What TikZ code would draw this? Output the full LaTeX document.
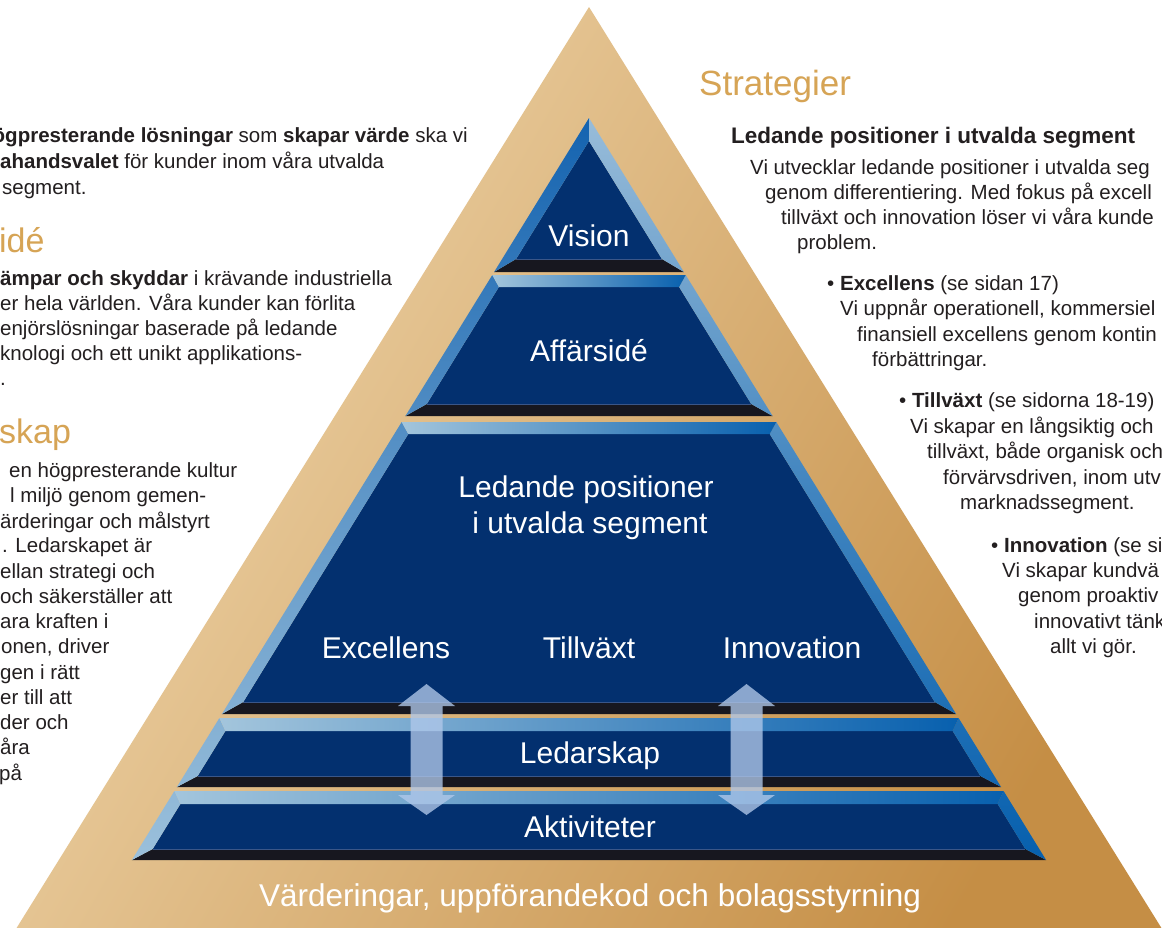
\documentclass[tikz,border=0pt]{standalone}
\usepackage{fontspec}
\setmainfont{Liberation Sans}
\usetikzlibrary{calc}
\definecolor{face}{HTML}{03306F}
\definecolor{strip}{HTML}{17171F}
\definecolor{stripline}{HTML}{3A5688}
\definecolor{lbTop}{HTML}{1463B0}
\definecolor{lbBot}{HTML}{9BC0DB}
\definecolor{rbTop}{HTML}{98BCD9}
\definecolor{rbBot}{HTML}{0760AE}
\definecolor{tbL}{HTML}{A3C5DC}
\definecolor{tbR}{HTML}{0860AE}
\definecolor{goldL}{HTML}{EFD6AC}
\definecolor{goldD}{HTML}{C58E45}
\definecolor{goldtxt}{HTML}{D6A455}
\definecolor{txt}{HTML}{231F20}
\definecolor{arrowc}{HTML}{B0C8EA}
\tikzset{
  body/.style={font=\fontsize{20.5}{24}\selectfont, text=txt, anchor=base west, inner sep=0pt},
  pyr/.style={font=\fontsize{30}{34}\selectfont, text=white, anchor=base, inner sep=0pt},
  headtxt/.style={font=\fontsize{35}{40}\selectfont, text=goldtxt, anchor=base west, inner sep=0pt},
  facefill/.style={fill=face},
  stripfill/.style={fill=strip},
  arrowfill/.style={fill=arrowc, fill opacity=0.78},
}
\newcommand{\dblarrow}[1]{%
  \fill[arrowfill] (#1) -- ++(28.5,22) -- ++(-12.5,0) -- ++(0,89) -- ++(12.5,0)
    -- ++(-28.5,20) -- ++(-28.5,-20) -- ++(12.5,0) -- ++(0,-89) -- ++(-12.5,0) -- cycle;}
\begin{document}
\begin{tikzpicture}[x=1pt,y=-1pt]
\useasboundingbox (0,0) rectangle (1162,927);
\clip (0,0) rectangle (1162,927);
\fill[white] (0,0) rectangle (1162,927);

% gold triangle
\shade[top color=goldL, bottom color=goldD, shading angle=60]
  (589,7) -- (1172,945) -- (6,945) -- cycle;

% ---------- tiers: inner faces ----------
\fill[facefill] (589,141) -- (661.9,259) -- (516.1,259) -- cycle;
\fill[facefill] (498.9,287) -- (679.1,287) -- (751.2,404) -- (426.8,404) -- cycle;
\fill[facefill] (408.3,434) -- (769.7,434) -- (934.7,702) -- (243.3,702) -- cycle;
\fill[facefill] (225.4,731) -- (952.6,731) -- (980.3,776) -- (197.7,776) -- cycle;
\fill[facefill] (180.4,804) -- (997.6,804) -- (1025.3,849) -- (152.7,849) -- cycle;

% ---------- dark bottom strips ----------
\fill[stripfill] (516.1,259) -- (661.9,259) -- (683.9,272) -- (494.1,272) -- cycle;
\fill[stripfill] (426.8,404) -- (751.2,404) -- (772.6,416) -- (405.4,416) -- cycle;
\fill[stripfill] (243.3,702) -- (934.7,702) -- (956.1,714) -- (221.9,714) -- cycle;
\fill[stripfill] (197.7,776) -- (980.3,776) -- (1001.1,787) -- (176.9,787) -- cycle;
\fill[stripfill] (152.7,849) -- (1025.3,849) -- (1046.1,860) -- (131.9,860) -- cycle;
\draw[stripline, line width=0.8pt] (516.1,259) -- (661.9,259);
\draw[stripline, line width=0.8pt] (426.8,404) -- (751.2,404);
\draw[stripline, line width=0.8pt] (243.3,702) -- (934.7,702);
\draw[stripline, line width=0.8pt] (197.7,776) -- (980.3,776);
\draw[stripline, line width=0.8pt] (152.7,849) -- (1025.3,849);

% ---------- left bevels ----------
\begin{scope}
\clip (589,118) -- (589,141) -- (516.1,259) -- (494.1,272) -- cycle
      (492.3,275) -- (498.9,287) -- (426.8,404) -- (405.4,416) -- cycle
      (401.7,422) -- (408.3,434) -- (243.3,702) -- (221.9,714) -- cycle
      (219.4,718) -- (225.4,731) -- (197.7,776) -- (176.9,787) -- cycle
      (174.4,791) -- (180.4,804) -- (152.7,849) -- (131.9,860) -- cycle;
\shade[top color=lbTop, bottom color=lbBot, middle color=lbTop!45!lbBot] (120,118) rectangle (600,860);
\end{scope}

% ---------- right bevels ----------
\begin{scope}
\clip (589,118) -- (589,141) -- (661.9,259) -- (683.9,272) -- cycle
      (685.7,275) -- (679.1,287) -- (751.2,404) -- (772.6,416) -- cycle
      (776.3,422) -- (769.7,434) -- (934.7,702) -- (956.1,714) -- cycle
      (958.6,718) -- (952.6,731) -- (980.3,776) -- (1001.1,787) -- cycle
      (1003.6,791) -- (997.6,804) -- (1025.3,849) -- (1046.1,860) -- cycle;
\shade[top color=rbTop, bottom color=rbBot, middle color=rbTop!40!rbBot] (580,118) rectangle (1060,860);
\end{scope}

% ---------- top bevels ----------
\shade[left color=tbL, right color=tbR] (492.3,275) -- (685.7,275) -- (679.1,287) -- (498.9,287) -- cycle;
\shade[left color=tbL, right color=tbR] (401.7,422) -- (776.3,422) -- (769.7,434) -- (408.3,434) -- cycle;
\shade[left color=tbL, right color=tbR] (219.4,718) -- (958.6,718) -- (952.6,731) -- (225.4,731) -- cycle;
\shade[left color=tbL, right color=tbR] (174.4,791) -- (1003.6,791) -- (997.6,804) -- (180.4,804) -- cycle;

% ---------- pyramid labels ----------
\node[pyr] (vision) at (589,246) {Vision};
\node[pyr] (affar) at (589,361) {Affärsidé};
\node[pyr] (led1) at (586,497) {Ledande positioner};
\node[pyr] (led2) at (590,533) {i utvalda segment};
\node[pyr] (exc) at (386,658) {Excellens};
\node[pyr] (till) at (589,658) {Tillväxt};
\node[pyr] (inno) at (792,658) {Innovation};
\node[pyr] (ledar) at (590,763) {Ledarskap};
\node[pyr] (aktiv) at (590,837) {Aktiviteter};
\node[pyr, font=\fontsize{31.5}{35}\selectfont] (varden) at (590,906) {Värderingar, uppförandekod och bolagsstyrning};

% ---------- arrows ----------
\coordinate (arrL) at (426.5,684);
\coordinate (arrR) at (746.5,684);
\dblarrow{arrL}
\dblarrow{arrR}

% ---------- headings ----------
\node[headtxt] (strat) at (699,95) {Strategier};
\node[headtxt, font=\fontsize{34}{40}\selectfont] (ide) at (-1,252) {idé};
\node[headtxt, font=\fontsize{34}{40}\selectfont] (skap) at (-1,443) {skap};

% ---------- left text ----------
\node[body] (l1) at (-7.5,142) {\textbf{ögpresterande lösningar} som \textbf{skapar värde} ska vi};
\node[body] (l2) at (0,168) {\textbf{ahandsvalet} för kunder inom våra utvalda};
\node[body] (l3) at (2,194) {segment.};

\node[body] (m1) at (0,285) {\textbf{ämpar och skyddar} i krävande industriella};
\node[body] (m2) at (0,310) {er hela världen. Våra kunder kan förlita};
\node[body] (m3) at (0,335) {enjörslösningar baserade på ledande};
\node[body] (m4) at (0,360) {knologi och ett unikt applikations-};
\node[body] (m5) at (0,385) {.};

\node[body] (s1) at (9,477) {en högpresterande kultur};
\node[body] (s2) at (10,502) {l miljö genom gemen-};
\node[body] (s3) at (0,528) {ärderingar och målstyrt};
\node[body] (s4) at (2,552) {. Ledarskapet är};
\node[body] (s5) at (0,578) {ellan strategi och};
\node[body] (s6) at (0,603) {och säkerställer att};
\node[body] (s7) at (0,628) {ara kraften i};
\node[body] (s8) at (1,653) {onen, driver};
\node[body] (s9) at (0,679) {gen i rätt};
\node[body] (s10) at (0,704) {er till att};
\node[body] (s11) at (0,729) {der och};
\node[body] (s12) at (0,754) {åra};
\node[body] (s13) at (-1,780) {på};

% ---------- right text ----------
\node[body, font=\fontsize{22.5}{26}\selectfont\bfseries] (r0) at (731,143) {Ledande positioner i utvalda segment};
\node[body] (r1) at (750,174) {Vi utvecklar ledande positioner i utvalda seg};
\node[body] (r2) at (765,199) {genom differentiering. Med fokus på excell};
\node[body] (r3) at (781,224) {tillväxt och innovation löser vi våra kunde};
\node[body] (r4) at (797,249) {problem.};

\node[body] (e0) at (827,290) {• \textbf{Excellens} (se sidan 17)};
\node[body] (e1) at (840,315) {Vi uppnår operationell, kommersiel};
\node[body] (e2) at (857,341) {finansiell excellens genom kontin};
\node[body] (e3) at (872,366) {förbättringar.};

\node[body] (t0) at (899,407) {• \textbf{Tillväxt} (se sidorna 18-19)};
\node[body] (t1) at (910,433) {Vi skapar en långsiktig och};
\node[body] (t2) at (927,458) {tillväxt, både organisk och};
\node[body] (t3) at (943,484) {förvärvsdriven, inom utv};
\node[body] (t4) at (960,509) {marknadssegment.};

\node[body] (i0) at (991,552) {• \textbf{Innovation} (se si};
\node[body] (i1) at (1002,577) {Vi skapar kundvä};
\node[body] (i2) at (1018,602) {genom proaktiv};
\node[body] (i3) at (1034,628) {innovativt tänk};
\node[body] (i4) at (1050,653) {allt vi gör.};
\end{tikzpicture}
\end{document}
